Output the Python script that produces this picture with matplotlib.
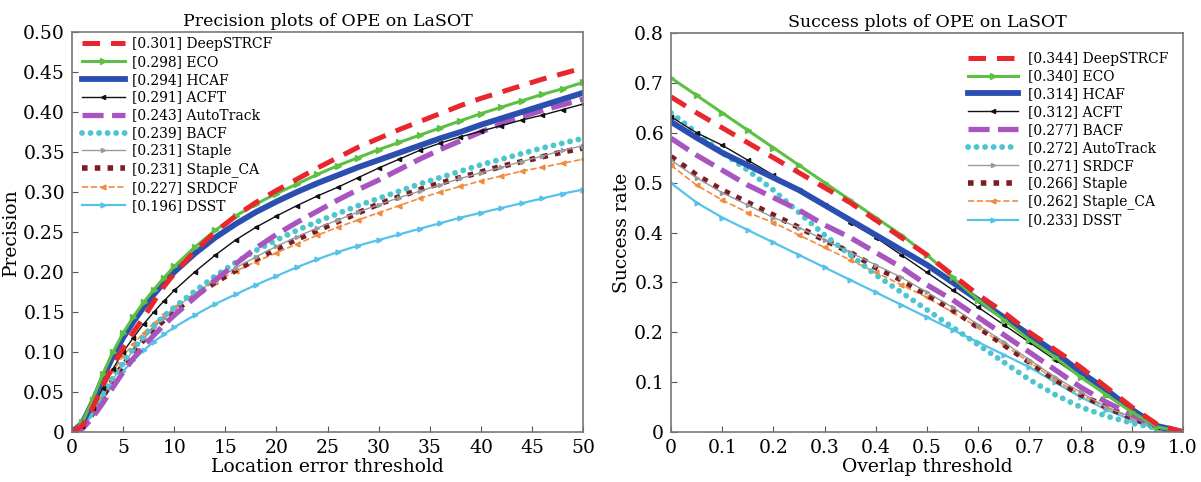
import matplotlib
matplotlib.use('Agg')
import matplotlib.pyplot as plt
from matplotlib.ticker import FixedLocator

plt.rcParams['font.family'] = ['DejaVu Serif']
plt.rcParams['mathtext.fontset'] = 'dejavuserif'

# ---- precision data (location error threshold) ----
prec_x = [0, 1, 2, 3, 4, 5, 6, 7, 8, 9, 10, 12, 14, 16, 18, 20, 22, 24, 26, 28, 30,
          32, 34, 36, 38, 40, 42, 44, 46, 48, 50]
prec_names = ['DeepSTRCF', 'ECO', 'HCAF', 'ACFT', 'AutoTrack', 'BACF', 'Staple',
              'Staple_CA', 'SRDCF', 'DSST']
prec_scores = ['0.301', '0.298', '0.294', '0.291', '0.243', '0.239', '0.231', '0.231',
               '0.227', '0.196']
prec_deepstrcf = [0, 0.008, 0.03, 0.058, 0.083, 0.105, 0.125, 0.143, 0.163, 0.182, 0.198,
                  0.226, 0.25, 0.27, 0.287, 0.302, 0.316, 0.33, 0.343, 0.356, 0.367,
                  0.378, 0.388, 0.398, 0.408, 0.417, 0.425, 0.433, 0.441, 0.448, 0.455]
prec_eco = [0, 0.012, 0.04, 0.072, 0.1, 0.124, 0.144, 0.162, 0.178, 0.193, 0.207,
            0.231, 0.252, 0.27, 0.285, 0.298, 0.31, 0.322, 0.333, 0.343, 0.353,
            0.362, 0.371, 0.38, 0.389, 0.398, 0.406, 0.414, 0.422, 0.429, 0.437]
prec_hcaf = [0, 0.011, 0.037, 0.067, 0.095, 0.118, 0.138, 0.156, 0.172, 0.187, 0.2,
             0.223, 0.243, 0.26, 0.275, 0.288, 0.3, 0.311, 0.321, 0.331, 0.34,
             0.349, 0.358, 0.367, 0.375, 0.384, 0.392, 0.4, 0.408, 0.416, 0.424]
prec_acft = [0, 0.008, 0.03, 0.055, 0.079, 0.1, 0.118, 0.135, 0.15, 0.164, 0.177,
             0.2, 0.221, 0.24, 0.256, 0.27, 0.283, 0.295, 0.306, 0.318, 0.33,
             0.341, 0.352, 0.361, 0.369, 0.376, 0.383, 0.39, 0.396, 0.403, 0.41]
prec_autotrack = [0, 0.004, 0.018, 0.036, 0.056, 0.075, 0.092, 0.107, 0.121, 0.134, 0.146,
                  0.168, 0.19, 0.21, 0.23, 0.247, 0.262, 0.276, 0.29, 0.303, 0.315,
                  0.328, 0.341, 0.353, 0.364, 0.375, 0.385, 0.394, 0.402, 0.409, 0.416]
prec_bacf = [0, 0.006, 0.025, 0.047, 0.068, 0.087, 0.104, 0.119, 0.133, 0.145, 0.156,
             0.176, 0.195, 0.212, 0.227, 0.24, 0.252, 0.263, 0.273, 0.283, 0.292,
             0.301, 0.31, 0.318, 0.326, 0.334, 0.341, 0.348, 0.355, 0.361, 0.367]
prec_staple = [0, 0.006, 0.024, 0.045, 0.066, 0.085, 0.102, 0.117, 0.131, 0.143, 0.154,
               0.173, 0.19, 0.205, 0.219, 0.232, 0.244, 0.255, 0.265, 0.275, 0.284,
               0.293, 0.301, 0.309, 0.317, 0.324, 0.331, 0.338, 0.345, 0.352, 0.358]
prec_staple_ca = [0, 0.006, 0.023, 0.044, 0.065, 0.084, 0.1, 0.115, 0.128, 0.14, 0.151,
                  0.17, 0.187, 0.202, 0.216, 0.229, 0.241, 0.252, 0.263, 0.274, 0.285,
                  0.294, 0.303, 0.311, 0.318, 0.325, 0.332, 0.338, 0.344, 0.35, 0.355]
prec_srdcf = [0, 0.008, 0.03, 0.054, 0.076, 0.095, 0.11, 0.124, 0.136, 0.147, 0.156,
              0.173, 0.188, 0.201, 0.213, 0.224, 0.235, 0.246, 0.256, 0.265, 0.274,
              0.283, 0.292, 0.3, 0.307, 0.314, 0.32, 0.326, 0.331, 0.336, 0.341]
prec_dsst = [0, 0.005, 0.022, 0.042, 0.06, 0.076, 0.09, 0.102, 0.113, 0.122, 0.131,
             0.146, 0.16, 0.172, 0.184, 0.195, 0.206, 0.216, 0.225, 0.233, 0.24,
             0.247, 0.254, 0.261, 0.268, 0.274, 0.28, 0.286, 0.292, 0.298, 0.303]
prec_series = [prec_deepstrcf, prec_eco, prec_hcaf, prec_acft, prec_autotrack, prec_bacf,
               prec_staple, prec_staple_ca, prec_srdcf, prec_dsst]

# ---- success data (overlap threshold) ----
succ_x = [0, 0.05, 0.1, 0.15, 0.2, 0.25, 0.3, 0.35, 0.4, 0.45, 0.5, 0.55, 0.6, 0.65,
          0.7, 0.75, 0.8, 0.85, 0.9, 0.95, 1.0]
succ_names = ['DeepSTRCF', 'ECO', 'HCAF', 'ACFT', 'BACF', 'AutoTrack', 'SRDCF',
              'Staple', 'Staple_CA', 'DSST']
succ_scores = ['0.344', '0.340', '0.314', '0.312', '0.277', '0.272', '0.271', '0.266',
               '0.262', '0.233']
succ_deepstrcf = [0.672, 0.64, 0.61, 0.58, 0.55, 0.52, 0.49, 0.46, 0.425, 0.39, 0.355,
                  0.315, 0.275, 0.24, 0.2, 0.165, 0.13, 0.09, 0.05, 0.015, 0.0]
succ_eco = [0.71, 0.675, 0.64, 0.605, 0.57, 0.535, 0.5, 0.465, 0.43, 0.395, 0.355,
            0.31, 0.265, 0.225, 0.185, 0.15, 0.11, 0.075, 0.04, 0.01, 0.0]
succ_hcaf = [0.622, 0.59, 0.56, 0.535, 0.51, 0.485, 0.455, 0.425, 0.395, 0.365, 0.335,
             0.3, 0.265, 0.23, 0.195, 0.16, 0.12, 0.085, 0.045, 0.012, 0.0]
succ_acft = [0.632, 0.6, 0.575, 0.545, 0.515, 0.485, 0.455, 0.42, 0.39, 0.355, 0.32,
             0.285, 0.25, 0.215, 0.18, 0.145, 0.11, 0.075, 0.04, 0.01, 0.0]
succ_bacf = [0.589, 0.555, 0.525, 0.495, 0.47, 0.445, 0.415, 0.39, 0.36, 0.33, 0.295,
             0.265, 0.23, 0.195, 0.16, 0.125, 0.09, 0.06, 0.035, 0.01, 0.0]
succ_autotrack = [0.64, 0.6, 0.56, 0.525, 0.485, 0.44, 0.395, 0.355, 0.315, 0.28, 0.245,
                  0.21, 0.175, 0.14, 0.105, 0.075, 0.05, 0.032, 0.018, 0.007, 0.0]
succ_srdcf = [0.545, 0.51, 0.48, 0.455, 0.43, 0.41, 0.385, 0.36, 0.335, 0.31, 0.28,
              0.25, 0.215, 0.18, 0.145, 0.11, 0.08, 0.05, 0.03, 0.008, 0.0]
succ_staple = [0.552, 0.515, 0.485, 0.46, 0.435, 0.41, 0.385, 0.36, 0.33, 0.305, 0.275,
               0.245, 0.21, 0.175, 0.14, 0.105, 0.075, 0.05, 0.028, 0.008, 0.0]
succ_staple_ca = [0.535, 0.495, 0.465, 0.44, 0.42, 0.395, 0.37, 0.345, 0.32, 0.295, 0.27,
                  0.24, 0.21, 0.175, 0.14, 0.105, 0.075, 0.05, 0.028, 0.008, 0.0]
succ_dsst = [0.499, 0.46, 0.43, 0.405, 0.38, 0.355, 0.33, 0.305, 0.28, 0.255, 0.23,
             0.205, 0.18, 0.155, 0.13, 0.1, 0.07, 0.045, 0.024, 0.006, 0.0]
succ_series = [succ_deepstrcf, succ_eco, succ_hcaf, succ_acft, succ_bacf, succ_autotrack,
               succ_srdcf, succ_staple, succ_staple_ca, succ_dsst]

# line styles by rank (same in both plots)
styles = [
    dict(color='#e8262b', ls=(0, (3.5, 2.2)), lw=3.6),
    dict(color='#5cc043', ls='-', lw=2.2, marker='>', ms=4.5),
    dict(color='#2a4fb0', ls='-', lw=4.2),
    dict(color='#111111', ls='-', lw=1.0, marker='<', ms=3),
    dict(color='#a855c0', ls=(0, (4, 1.6)), lw=3.8),
    dict(color='#4cc5cf', ls=(0, (0.01, 1.45)), lw=4.2, dash_capstyle='round'),
    dict(color='#9a9a9a', ls='-', lw=1.0, marker='>', ms=3),
    dict(color='#7b1c24', ls=(0, (1, 1.3)), lw=4.0),
    dict(color='#f18b3e', ls='--', lw=1.2, marker='<', ms=3.5),
    dict(color='#56c2ea', ls='-', lw=1.6, marker='>', ms=3.5),
]

fig = plt.figure(figsize=(12.01, 4.82), dpi=100)
ax1 = fig.add_axes([0.060, 0.1037, 0.4255, 0.8299])
ax2 = fig.add_axes([0.5587, 0.1037, 0.4263, 0.8278])


def draw(ax, xs, series, names, scores):
    # draw lowest rank first so the top tracker sits on top
    handles = [None] * len(series)
    for i in range(len(series) - 1, -1, -1):
        st = styles[i]
        h, = ax.plot(xs, series[i], label='[%s] %s' % (scores[i], names[i]), **st)
        handles[i] = h
    return handles


def style_axes(ax):
    for s in ax.spines.values():
        s.set_color('#777777')
        s.set_linewidth(1.2)
    ax.tick_params(direction='in', length=4, color='#555555', labelsize=13.5, pad=5)


h1 = draw(ax1, prec_x, prec_series, prec_names, prec_scores)
ax1.set_xlim(0, 50)
ax1.set_ylim(0, 0.5)
ax1.xaxis.set_major_locator(FixedLocator(list(range(0, 51, 5))))
yt1 = [0, 0.05, 0.1, 0.15, 0.2, 0.25, 0.3, 0.35, 0.4, 0.45, 0.5]
ax1.set_yticks(yt1)
ax1.set_yticklabels(['0'] + ['%.2f' % v for v in yt1[1:]])
ax1.set_title('Precision plots of OPE on LaSOT', fontsize=12.5, pad=4)
ax1.set_xlabel('Location error threshold', fontsize=13.5, labelpad=1)
ax1.set_ylabel('Precision', fontsize=13.5, labelpad=2)
style_axes(ax1)
ax1.legend(handles=h1, loc='upper left', bbox_to_anchor=(0.0, 1.012), frameon=False,
           fontsize=10, handlelength=3.1, handletextpad=0.5, labelspacing=0.28,
           borderaxespad=0.3, numpoints=1)

h2 = draw(ax2, succ_x, succ_series, succ_names, succ_scores)
ax2.set_xlim(0, 1)
ax2.set_ylim(0, 0.8)
xt2 = [0, 0.1, 0.2, 0.3, 0.4, 0.5, 0.6, 0.7, 0.8, 0.9, 1.0]
ax2.set_xticks(xt2)
ax2.set_xticklabels(['0'] + ['%.1f' % v for v in xt2[1:]])
yt2 = [0, 0.1, 0.2, 0.3, 0.4, 0.5, 0.6, 0.7, 0.8]
ax2.set_yticks(yt2)
ax2.set_yticklabels(['0'] + ['%.1f' % v for v in yt2[1:]])
ax2.set_title('Success plots of OPE on LaSOT', fontsize=12.5, pad=4)
ax2.set_xlabel('Overlap threshold', fontsize=13.5, labelpad=1)
ax2.set_ylabel('Success rate', fontsize=13.5, labelpad=2)
style_axes(ax2)
ax2.legend(handles=h2, loc='upper right', bbox_to_anchor=(0.995, 0.985), frameon=False,
           fontsize=10, handlelength=3.6, handletextpad=0.72, labelspacing=0.28,
           numpoints=1)

fig.savefig('out.png', dpi=100)
